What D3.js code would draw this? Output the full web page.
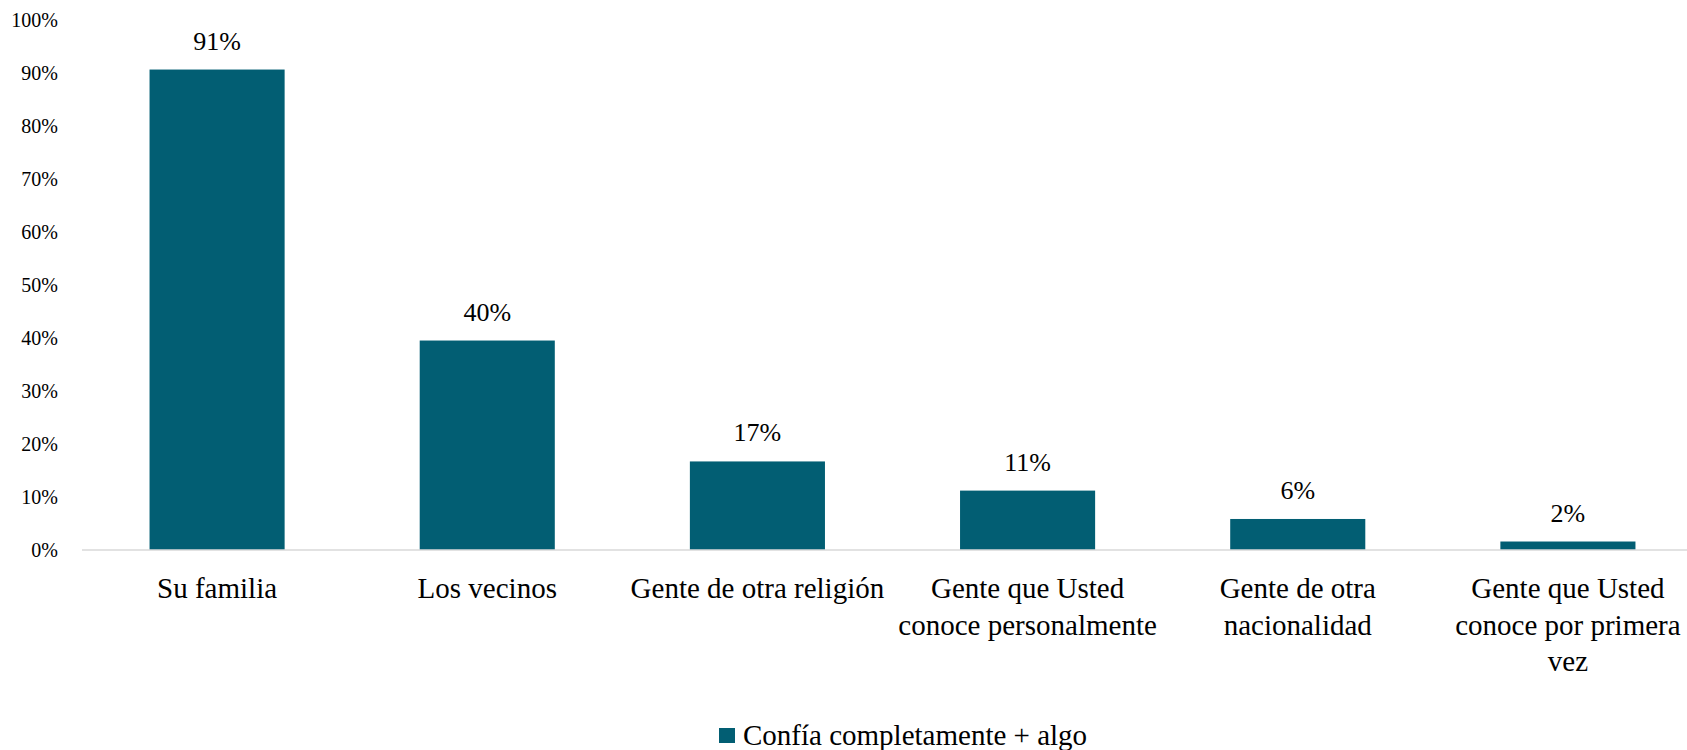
<!DOCTYPE html>
<html>
<head>
<meta charset="utf-8">
<script src="https://cdn.jsdelivr.net/npm/d3@7"></script>
<style>
  html, body { margin: 0; padding: 0; background: #fff; overflow: hidden; }
  svg { display: block; }
  svg text { font-family: "Liberation Serif", "DejaVu Serif", serif; }
</style>
</head>
<body>
<svg id="chart" width="1687" height="750"></svg>
<script>
const categories = [
  "Su familia",
  "Los vecinos",
  "Gente de otra religión",
  "Gente que Usted conoce personalmente",
  "Gente de otra nacionalidad",
  "Gente que Usted conoce por primera vez"
];
const values = [90.6, 39.5, 16.7, 11.2, 5.85, 1.6];
const valueLabels = ["91%", "40%", "17%", "11%", "6%", "2%"];
const yTicks = [0, 10, 20, 30, 40, 50, 60, 70, 80, 90, 100];
const seriesName = "Confía completamente + algo";

const FONT = "Liberation Serif";
const barColor = "#025E73";
const svg = d3.select("#chart");

const x = d3.scaleBand().domain(categories).range([82, 1703]).paddingInner(0.5).paddingOuter(0.25);
const y = d3.scaleLinear().domain([0, 100]).range([550, 19.7]);

// y tick labels
const yAxis = d3.axisLeft(y).tickValues(yTicks).tickFormat(d => d + "%").tickSize(0).tickPadding(0);
const gy = svg.append("g").attr("transform", "translate(58,0)").call(yAxis)
  .attr("font-family", FONT);
gy.select(".domain").remove();
gy.selectAll("text").attr("font-size", 20).attr("fill", "#000").attr("font-family", FONT);

// bars
svg.append("g").selectAll("rect").data(categories).join("rect")
  .attr("x", d => x(d))
  .attr("width", x.bandwidth())
  .attr("y", (d, i) => y(values[i]))
  .attr("height", (d, i) => y(0) - y(values[i]))
  .attr("fill", barColor);

// baseline
svg.append("line")
  .attr("x1", 82).attr("x2", 1703)
  .attr("y1", y(0)).attr("y2", y(0))
  .attr("stroke", "#d9d9d9").attr("stroke-width", 1.5);

// value labels
svg.append("g").attr("font-family", FONT).selectAll("text").data(categories).join("text")
  .attr("x", d => x(d) + x.bandwidth() / 2)
  .attr("y", (d, i) => y(values[i]) - 20)
  .attr("text-anchor", "middle")
  .attr("font-size", 26)
  .attr("font-family", FONT)
  .attr("fill", "#000")
  .text((d, i) => valueLabels[i]);

// category labels with wrapping
const maxW = 265;
const gx = svg.append("g").attr("font-family", FONT);
categories.forEach(cat => {
  const cx = x(cat) + x.bandwidth() / 2;
  const t = gx.append("text")
    .attr("x", cx)
    .attr("y", 598)
    .attr("text-anchor", "middle")
    .attr("font-size", 29)
    .attr("font-family", FONT)
    .attr("fill", "#000");
  const words = cat.split(" ");
  let line = [];
  let tspan = t.append("tspan").attr("x", cx).attr("dy", 0);
  words.forEach(w => {
    line.push(w);
    tspan.text(line.join(" "));
    if (tspan.node().getComputedTextLength() > maxW && line.length > 1) {
      line.pop();
      tspan.text(line.join(" "));
      line = [w];
      tspan = t.append("tspan").attr("x", cx).attr("dy", 36.7).text(w);
    }
  });
});

// legend
const lg = svg.append("g");
lg.append("rect").attr("x", 719).attr("y", 728).attr("width", 16).attr("height", 15).attr("fill", barColor);
lg.append("text").attr("x", 743).attr("y", 745).attr("font-size", 29)
  .attr("font-family", FONT).attr("fill", "#000").text(seriesName);
</script>
</body>
</html>
